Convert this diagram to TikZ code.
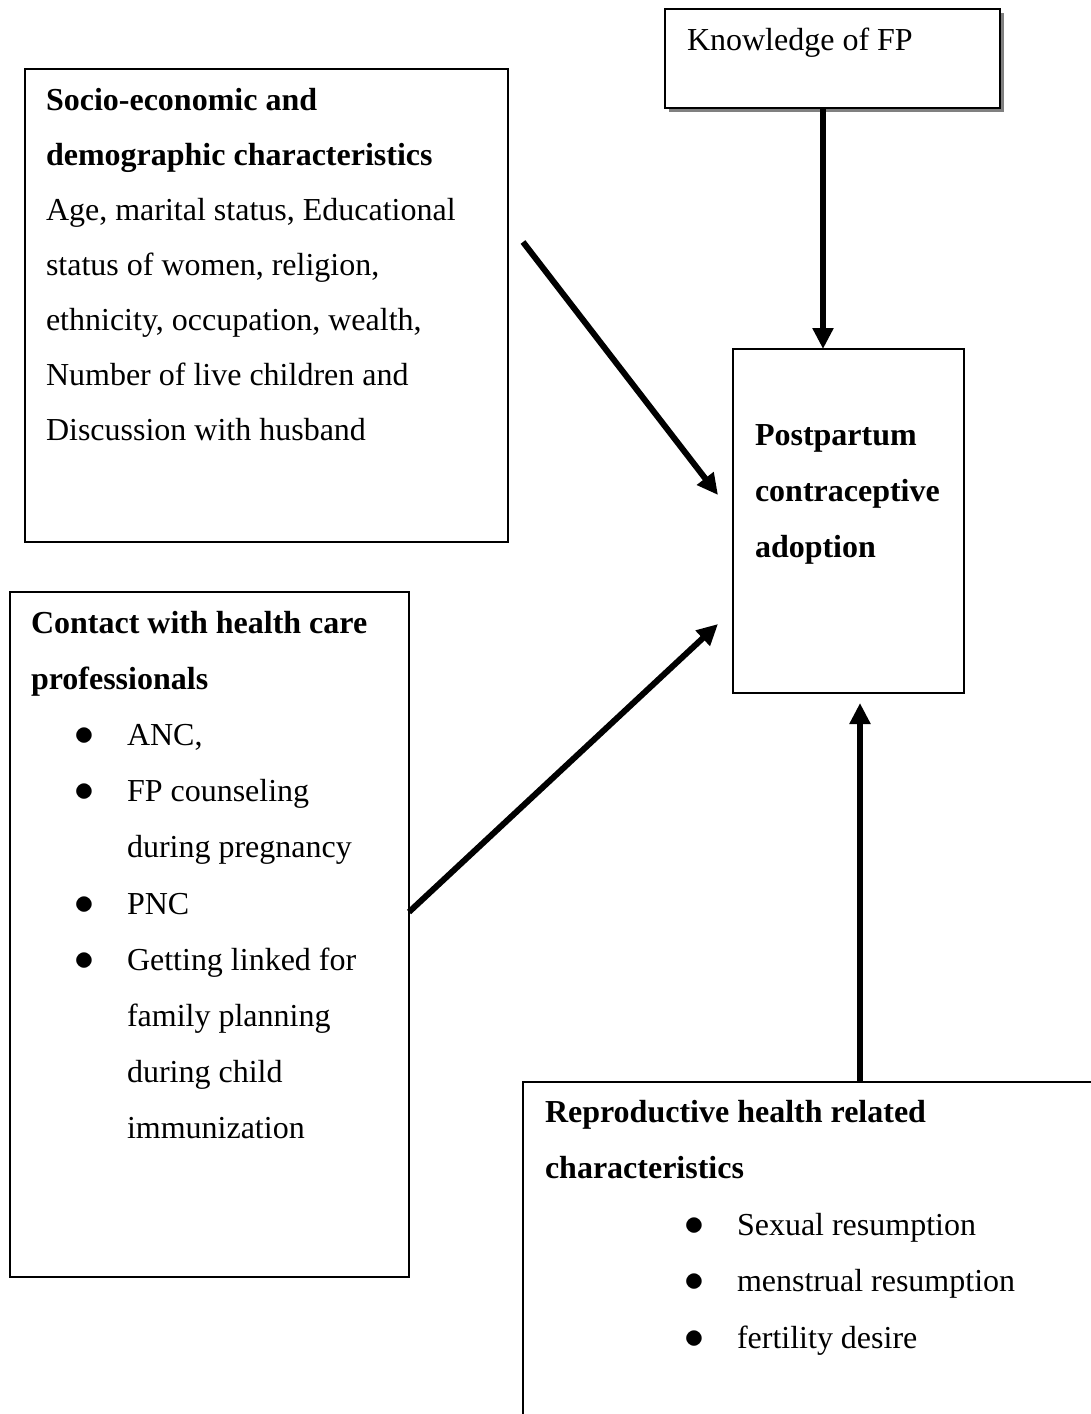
\documentclass[tikz,border=0pt]{standalone}
\usepackage{fontspec}
\usepackage{graphicx}
\setmainfont{Liberation Serif}
\usetikzlibrary{arrows.meta,calc,shadows}
\newcommand\linestack[2]{\vtop{\baselineskip=#1\lineskip=0pt\lineskiplimit=-1000pt\halign{##\hfil\cr #2\crcr}}}
\newcommand\bulitem[1]{\hskip#1\llap{\makebox[86pt]{\scalebox{1.6}{$\bullet$}}}}
\begin{document}
\begin{tikzpicture}[x=1pt,y=-1pt,
  box/.style={draw, line width=1.6pt, rectangle, inner sep=0pt, outer sep=0pt, anchor=north west},
  txt/.style={anchor=base west, inner sep=0pt, outer sep=0pt, font=\fontsize{32}{38}\selectfont},
  arr/.style={line width=6pt, -{Triangle[length=21pt,width=20pt]}}]
\useasboundingbox (0,0) rectangle (1091,1414);
\clip (0,0) rectangle (1091,1414);
% boxes
\node[box, minimum width=483pt, minimum height=473pt] (socio) at (25,69) {};
\node[box, minimum width=335pt, minimum height=99pt, fill=white,
      drop shadow={shadow xshift=4pt, shadow yshift=-4pt, fill=black!50, opacity=1}] (know) at (665,9) {};
\node[box, minimum width=231pt, minimum height=344pt] (post) at (733,349) {};
\node[box, minimum width=399pt, minimum height=685pt] (contact) at (10,592) {};
\node[box, minimum width=600pt, minimum height=400pt] (repro) at (523,1082) {};
% texts
\node[txt] (knowtext) at (687,50) {Knowledge of FP};
\node[txt] (sociotext) at (46,110) {\linestack{55pt}{%
  \textbf{Socio-economic and}\cr
  \textbf{demographic characteristics}\cr
  Age, marital status, Educational\cr
  status of women, religion,\cr
  ethnicity, occupation, wealth,\cr
  Number of live children and\cr
  Discussion with husband}};
\node[txt] (posttext) at (755,445) {\linestack{56pt}{%
  \textbf{Postpartum}\cr
  \textbf{contraceptive}\cr
  \textbf{adoption}}};
\node[txt] (contacttext) at (31,633) {\linestack{56.2pt}{%
  \textbf{Contact with health care}\cr
  \textbf{professionals}\cr
  \bulitem{96pt}ANC,\cr
  \bulitem{96pt}FP counseling\cr
  \hskip96pt during pregnancy\cr
  \bulitem{96pt}PNC\cr
  \bulitem{96pt}Getting linked for\cr
  \hskip96pt family planning\cr
  \hskip96pt during child\cr
  \hskip96pt immunization}};
\node[txt] (reprotext) at (545,1122) {\linestack{56.5pt}{%
  \textbf{Reproductive health related}\cr
  \textbf{characteristics}\cr
  \bulitem{192pt}Sexual resumption\cr
  \bulitem{192pt}menstrual resumption\cr
  \bulitem{192pt}fertility desire}};
% connectors
\coordinate (kx) at (823,0);
\coordinate (rx) at (860,0);
\draw[arr] (know.south -| kx) -- (post.north -| kx);
\draw[arr] ($(socio.north east)+(15,173)$) -- ($(post.north west)+(-15,146)$);
\draw[arr] ($(contact.north east)+(0,320)$) -- ($(post.north west)+(-15,275)$);
\draw[arr] (repro.north -| rx) -- ($(post.south -| rx)+(0,10)$);
\end{tikzpicture}
\end{document}
